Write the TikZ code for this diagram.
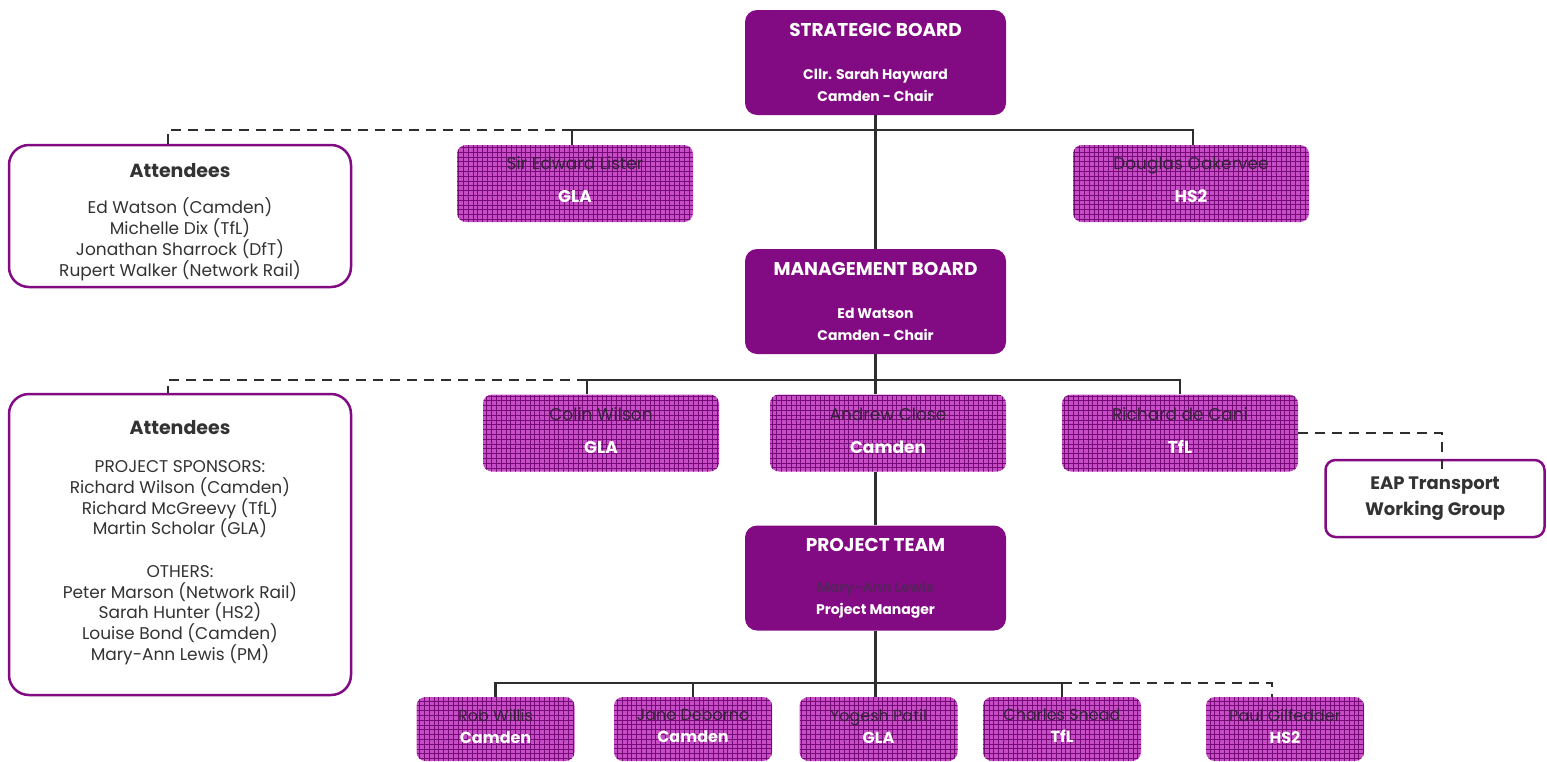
\documentclass[tikz,border=0pt]{standalone}
\usepackage{fontspec}
\setmainfont{Poppins}
\definecolor{boardcol}{HTML}{820A82}
\definecolor{gridbase}{HTML}{C64DC6}
\definecolor{gridline}{HTML}{760A76}
\definecolor{namecol}{HTML}{35233A}
\definecolor{pmcol}{HTML}{5A2060}
\definecolor{txtcol}{HTML}{333333}
\definecolor{linecol}{HTML}{2E2E2E}
\tikzset{
  board/.style={fill=boardcol, rounded corners=12pt, text=white, align=center,
    minimum width=261pt, minimum height=105pt, inner sep=0pt,
    font=\fontsize{14}{22}\selectfont\bfseries},
  gridbox/.style={fill=gridbase, rounded corners=9pt, align=center, inner sep=0pt,
    minimum width=236pt, minimum height=77pt, font=\fontsize{17}{20}\selectfont,
    path picture={\draw[gridline, line width=1pt, step=4.8pt]
      (path picture bounding box.south west) grid (path picture bounding box.north east);}},
  smallgrid/.style={gridbox, minimum width=158pt, minimum height=64pt, font=\fontsize{16}{20}\selectfont},
  attbox/.style={draw=boardcol, line width=2.5pt, fill=white, rounded corners=20pt,
    minimum width=342pt, align=center, inner sep=0pt, text=txtcol,
    font=\fontsize{17}{20.7}\selectfont},
  conn/.style={draw=linecol, line width=2.7pt},
  dconn/.style={draw=linecol, line width=2.7pt, dash pattern=on 10pt off 7pt},
}
\newcommand{\nm}[1]{{\color{namecol}#1}}
\newcommand{\org}[1]{{\color{white}\bfseries #1}}
\newcommand{\ttl}[1]{{\fontsize{18.5}{22}\selectfont #1}}
\newcommand{\atl}[1]{{\bfseries\fontsize{19}{22}\selectfont #1}}
\begin{document}
\begin{tikzpicture}[x=1pt,y=-1pt]
\useasboundingbox (0,0) rectangle (1547,761);
% boards
\node[board] (sb) at (875.5,62.5) {\ttl{STRATEGIC BOARD}\\[21pt]Cllr. Sarah Hayward\\Camden - Chair};
\node[board] (mb) at (875.5,301.5) {\ttl{MANAGEMENT BOARD}\\[21pt]Ed Watson\\Camden - Chair};
\node[board] (pt) at (875.5,578) {\ttl{PROJECT TEAM}\\[19pt]{\color{pmcol}Mary-Ann Lewis}\\Project Manager};
% level 1
\node[gridbox] (lis) at (575,183.5) {\nm{Sir Edward Lister}\\[13pt]\org{GLA}\\[-13pt]\mbox{}};
\node[gridbox] (oak) at (1191,183.5) {\nm{Douglas Oakervee}\\[13pt]\org{HS2}\\[-13pt]\mbox{}};
\node[attbox, minimum height=142pt] (att1) at (180,216) {\mbox{}\\[5pt]\atl{Attendees}\\[16pt]Ed Watson (Camden)\\Michelle Dix (TfL)\\Jonathan Sharrock (DfT)\\Rupert Walker (Network Rail)};
% level 2
\node[gridbox] (cw) at (601,433) {\nm{Colin Wilson}\\[13pt]\org{GLA}\\[-15pt]\mbox{}};
\node[gridbox] (ac) at (888,433) {\nm{Andrew Close}\\[13pt]\org{Camden}\\[-15pt]\mbox{}};
\node[gridbox] (rdc) at (1180,433) {\nm{Richard de Cani}\\[13pt]\org{TfL}\\[-15pt]\mbox{}};
\node[attbox, minimum height=301pt] (att2) at (180,544.5) {\atl{Attendees}\\[18pt]PROJECT SPONSORS:\\Richard Wilson (Camden)\\Richard McGreevy (TfL)\\Martin Scholar (GLA)\\[22pt]OTHERS:\\Peter Marson (Network Rail)\\Sarah Hunter (HS2)\\Louise Bond (Camden)\\Mary-Ann Lewis (PM)\\[-12pt]\mbox{}};
\node[attbox, minimum width=219pt, minimum height=77pt, rounded corners=10pt, font=\fontsize{18}{26}\selectfont\bfseries] (eap) at (1435,498.5) {EAP Transport\\Working Group};
% level 3
\node[smallgrid] (rw) at (495.5,729) {\nm{Rob Willis}\\[2pt]\org{Camden}\\[-14pt]\mbox{}};
\node[smallgrid] (jd) at (693,729) {\nm{Jane Deborno}\\[2pt]\org{Camden}\\[-14pt]\mbox{}};
\node[smallgrid] (yp) at (878.5,729) {\nm{Yogesh Patil}\\[2pt]\org{GLA}\\[-14pt]\mbox{}};
\node[smallgrid] (cs) at (1062,729) {\nm{Charles Snead}\\[2pt]\org{TfL}\\[-14pt]\mbox{}};
\node[smallgrid] (pg) at (1285,729) {\nm{Paul Gilfedder}\\[2pt]\org{HS2}\\[-14pt]\mbox{}};
% connectors
\coordinate (h1) at (0,130);
\coordinate (h2) at (0,380);
\coordinate (h3) at (0,683);
\draw[conn] (sb.south) -- (mb.north);
\draw[conn] ([xshift=-3pt]lis.north) -- ([xshift=-3pt]lis.north |- h1) -| ([xshift=2pt]oak.north);
\draw[dconn] ([xshift=-3pt]lis.north |- h1) -| ([xshift=-12pt]att1.north);
\draw[conn] (mb.south) -- (mb.south |- ac.north);
\draw[conn] ([xshift=-14pt]cw.north) -- ([xshift=-14pt]cw.north |- h2) -| (rdc.north);
\draw[dconn] ([xshift=-14pt]cw.north |- h2) -| ([xshift=-12pt]att2.north);
\draw[dconn] (rdc.east) -| ([xshift=7pt,yshift=-10pt]eap.north);
\draw[conn] (pt.north |- ac.south) -- (pt.north);
\draw[conn] (pt.south) -- (pt.south |- yp.north);
\draw[conn] (rw.north) -- (rw.north |- h3) -| (cs.north);
\draw[conn] (jd.north) -- (jd.north |- h3);
\draw[dconn] (cs.north |- h3) -| ([xshift=-13pt]pg.north);
\end{tikzpicture}
\end{document}
